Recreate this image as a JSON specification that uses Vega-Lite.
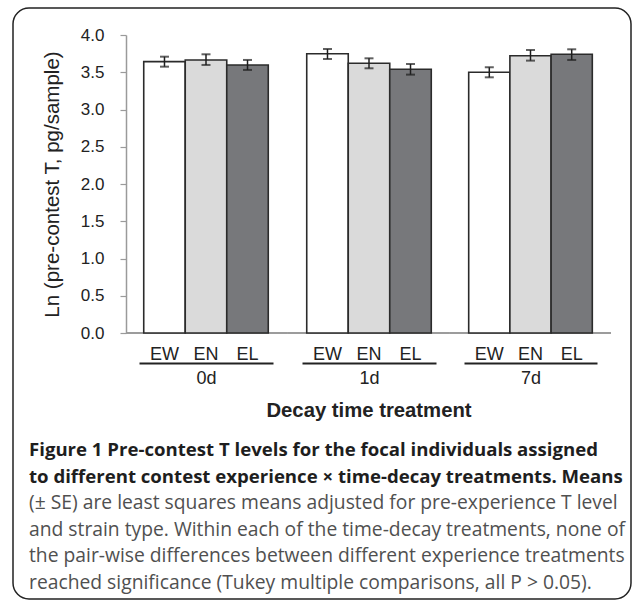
{
  "$schema": "https://vega.github.io/schema/vega-lite/v6.json",
  "width": 618,
  "height": 591,
  "padding": {"left": 13, "top": 8, "right": 1, "bottom": 1},
  "autosize": {"type": "none"},
  "background": "white",
  "config": {
    "view": {"stroke": "#222222", "strokeWidth": 1.5, "cornerRadius": 16},
    "font": "Liberation Sans"
  },
  "title": {
    "text": ["Figure 1 Pre-contest T levels for the focal individuals assigned", "to different contest experience × time-decay treatments. Means"],
    "subtitle": ["(± SE) are least squares means adjusted for pre-experience T level", "and strain type. Within each of the time-decay treatments, none of", "the pair-wise differences between different experience treatments", "reached significance (Tukey multiple comparisons, all P > 0.05)."],
    "orient": "bottom",
    "anchor": "start",
    "frame": "group",
    "offset": -158,
    "dx": 16,
    "font": "Open Sans",
    "fontSize": 18.6,
    "fontWeight": "bold",
    "color": "#1e1e1e",
    "lineHeight": 26.6,
    "subtitleFont": "Open Sans",
    "subtitleFontSize": 19.3,
    "subtitleColor": "#505050",
    "subtitleLineHeight": 26.6,
    "subtitlePadding": 8
  },
  "data": {
    "values": [
      {"decay": "0d", "exp": "EW", "mean": 3.642, "lo": 3.575, "hi": 3.709},
      {"decay": "0d", "exp": "EN", "mean": 3.665, "lo": 3.598, "hi": 3.741},
      {"decay": "0d", "exp": "EL", "mean": 3.598, "lo": 3.531, "hi": 3.665},
      {"decay": "1d", "exp": "EW", "mean": 3.749, "lo": 3.678, "hi": 3.812},
      {"decay": "1d", "exp": "EN", "mean": 3.620, "lo": 3.553, "hi": 3.687},
      {"decay": "1d", "exp": "EL", "mean": 3.540, "lo": 3.468, "hi": 3.611},
      {"decay": "7d", "exp": "EW", "mean": 3.500, "lo": 3.432, "hi": 3.567},
      {"decay": "7d", "exp": "EN", "mean": 3.722, "lo": 3.656, "hi": 3.799},
      {"decay": "7d", "exp": "EL", "mean": 3.741, "lo": 3.665, "hi": 3.808}
    ]
  },
  "resolve": {"scale": {"x": "independent"}, "axis": {"x": "independent", "y": "independent"}},
  "layer": [
    {
      "mark": {"type": "bar", "fill": null, "stroke": "#9a9a9a", "strokeWidth": 1.6},
      "encoding": {
        "x": {
          "field": "decay", "type": "nominal",
          "sort": ["0d", "1d", "7d"],
          "scale": {"range": [113, 598], "paddingInner": 0, "paddingOuter": 0},
          "axis": {
            "orient": "bottom", "offset": -266, "domain": false, "ticks": false, "labels": false,
            "title": "Decay time treatment", "titleFont": "Liberation Sans", "titleFontSize": 20.3,
            "titleFontWeight": "bold", "titleColor": "#222222", "titleY": 83, "titleBaseline": "alphabetic"
          }
        },
        "y": {
          "datum": 0, "type": "quantitative",
          "scale": {"domain": [0, 4], "range": [325, 27], "nice": false},
          "axis": {
            "orient": "left", "offset": -113,
            "values": [0, 0.5, 1, 1.5, 2, 2.5, 3, 3.5, 4], "format": ".1f",
            "grid": false,
            "domainColor": "#9a9a9a", "domainWidth": 1.5,
            "tickColor": "#9a9a9a", "tickSize": 6, "tickWidth": 1.2,
            "labelFontSize": 17, "labelColor": "#222222", "labelPadding": 16,
            "title": "Ln (pre-contest T, pg/sample)", "titleFontSize": 20.5,
            "titleFontWeight": "normal", "titleColor": "#222222", "titlePadding": 18
          }
        },
        "y2": {"datum": 0}
      }
    },
    {
      "transform": [{"filter": "datum.decay === '0d'"}],
      "encoding": {
        "x": {
          "field": "exp", "type": "nominal", "sort": ["EW", "EN", "EL"],
          "scale": {"range": [126, 260], "paddingInner": 0, "paddingOuter": 0.114},
          "axis": {
            "orient": "bottom", "offset": -236, "domainColor": "#222222", "domainWidth": 2,
            "ticks": false, "tickSize": 0, "labelAngle": 0, "labelFontSize": 18, "labelColor": "#222222",
            "labelPadding": -4, "labelBaseline": "alphabetic",
            "title": "0d", "titleFontSize": 18, "titleFontWeight": "normal", "titleColor": "#222222",
            "titleY": 20, "titleBaseline": "alphabetic"
          }
        }
      },
      "layer": [
        {
          "mark": {"type": "bar", "stroke": "#2b2b2b", "strokeWidth": 1.6},
          "encoding": {
            "y": {"field": "mean", "type": "quantitative", "scale": {"domain": [0, 4], "range": [325, 27], "nice": false}, "axis": null},
            "fill": {"field": "exp", "type": "nominal", "scale": {"domain": ["EW", "EN", "EL"], "range": ["#ffffff", "#dadada", "#77787b"]}, "legend": null}
          }
        },
        {
          "mark": {"type": "errorbar", "color": "#1e1e1e", "ticks": {"size": 9, "thickness": 2, "color": "#1e1e1e"}, "rule": {"strokeWidth": 1.5}},
          "encoding": {
            "y": {"field": "lo", "type": "quantitative", "scale": {"domain": [0, 4], "range": [325, 27], "nice": false}, "axis": null},
            "y2": {"field": "hi"}
          }
        }
      ]
    },
    {
      "transform": [{"filter": "datum.decay === '1d'"}],
      "encoding": {
        "x": {
          "field": "exp", "type": "nominal", "sort": ["EW", "EN", "EL"],
          "scale": {"range": [289, 423], "paddingInner": 0, "paddingOuter": 0.114},
          "axis": {
            "orient": "bottom", "offset": -236, "domainColor": "#222222", "domainWidth": 2,
            "ticks": false, "tickSize": 0, "labelAngle": 0, "labelFontSize": 18, "labelColor": "#222222",
            "labelPadding": -4, "labelBaseline": "alphabetic",
            "title": "1d", "titleFontSize": 18, "titleFontWeight": "normal", "titleColor": "#222222",
            "titleY": 20, "titleBaseline": "alphabetic"
          }
        }
      },
      "layer": [
        {
          "mark": {"type": "bar", "stroke": "#2b2b2b", "strokeWidth": 1.6},
          "encoding": {
            "y": {"field": "mean", "type": "quantitative", "scale": {"domain": [0, 4], "range": [325, 27], "nice": false}, "axis": null},
            "fill": {"field": "exp", "type": "nominal", "scale": {"domain": ["EW", "EN", "EL"], "range": ["#ffffff", "#dadada", "#77787b"]}, "legend": null}
          }
        },
        {
          "mark": {"type": "errorbar", "color": "#1e1e1e", "ticks": {"size": 9, "thickness": 2, "color": "#1e1e1e"}, "rule": {"strokeWidth": 1.5}},
          "encoding": {
            "y": {"field": "lo", "type": "quantitative", "scale": {"domain": [0, 4], "range": [325, 27], "nice": false}, "axis": null},
            "y2": {"field": "hi"}
          }
        }
      ]
    },
    {
      "transform": [{"filter": "datum.decay === '7d'"}],
      "encoding": {
        "x": {
          "field": "exp", "type": "nominal", "sort": ["EW", "EN", "EL"],
          "scale": {"range": [451, 584], "paddingInner": 0, "paddingOuter": 0.114},
          "axis": {
            "orient": "bottom", "offset": -236, "domainColor": "#222222", "domainWidth": 2,
            "ticks": false, "tickSize": 0, "labelAngle": 0, "labelFontSize": 18, "labelColor": "#222222",
            "labelPadding": -4, "labelBaseline": "alphabetic",
            "title": "7d", "titleFontSize": 18, "titleFontWeight": "normal", "titleColor": "#222222",
            "titleY": 20, "titleBaseline": "alphabetic"
          }
        }
      },
      "layer": [
        {
          "mark": {"type": "bar", "stroke": "#2b2b2b", "strokeWidth": 1.6},
          "encoding": {
            "y": {"field": "mean", "type": "quantitative", "scale": {"domain": [0, 4], "range": [325, 27], "nice": false}, "axis": null},
            "fill": {"field": "exp", "type": "nominal", "scale": {"domain": ["EW", "EN", "EL"], "range": ["#ffffff", "#dadada", "#77787b"]}, "legend": null}
          }
        },
        {
          "mark": {"type": "errorbar", "color": "#1e1e1e", "ticks": {"size": 9, "thickness": 2, "color": "#1e1e1e"}, "rule": {"strokeWidth": 1.5}},
          "encoding": {
            "y": {"field": "lo", "type": "quantitative", "scale": {"domain": [0, 4], "range": [325, 27], "nice": false}, "axis": null},
            "y2": {"field": "hi"}
          }
        }
      ]
    }
  ]
}
